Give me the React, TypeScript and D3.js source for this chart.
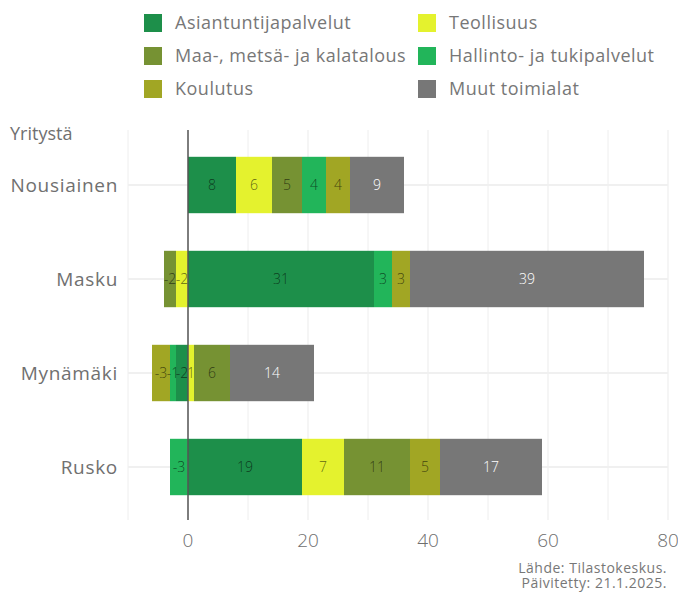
import React, { useRef, useEffect } from "react";
import * as d3 from "d3";

const municipalities = ["Nousiainen", "Masku", "Mynämäki", "Rusko"];
const sectors = [
  "Asiantuntijapalvelut",
  "Teollisuus",
  "Maa-, metsä- ja kalatalous",
  "Hallinto- ja tukipalvelut",
  "Koulutus",
  "Muut toimialat",
];
const sectorColors = ["#1d8f4a", "#e4f22e", "#769233", "#22b55a", "#a1a624", "#777777"];

// values per sector, in municipality order
const asiantuntija = [8, 31, -2, 19];
const teollisuus = [6, -2, 1, 7];
const maatalous = [5, -2, 6, 11];
const hallinto = [4, 3, -1, -3];
const koulutus = [4, 3, -3, 5];
const muut = [9, 39, 14, 17];

const xTicks = [0, 20, 40, 60, 80];

const W = 678;
const H = 593;
const FONT = "'Open Sans', sans-serif";

const App: React.FC = () => {
  const svgRef = useRef<SVGSVGElement | null>(null);

  useEffect(() => {
    const svg = d3.select(svgRef.current);
    svg.selectAll("*").remove();

    const series = [asiantuntija, teollisuus, maatalous, hallinto, koulutus, muut];
    const rows = municipalities.map((m, i) => {
      const row: any = { name: m };
      sectors.forEach((s, j) => (row[s] = series[j][i]));
      return row;
    });

    const stack = d3.stack<any>().keys(sectors).offset(d3.stackOffsetDiverging);
    const stacked = stack(rows);

    const x = d3.scaleLinear().domain([-10, 80]).range([128, 668]);
    const y = d3.scaleBand().domain(municipalities).range([138, 514]).paddingInner(0.4).paddingOuter(0.2);

    const top = 130;
    const bottom = 520;

    // grid
    const grid = svg.append("g");
    d3.range(-10, 81, 10).forEach((v) => {
      grid.append("line")
        .attr("x1", x(v)).attr("x2", x(v))
        .attr("y1", top).attr("y2", bottom)
        .attr("stroke", "#eeeeee")
        .attr("stroke-width", v % 20 === 0 ? 1.2 : 1);
    });
    municipalities.forEach((m) => {
      const cy = y(m)! + y.bandwidth() / 2;
      grid.append("line")
        .attr("x1", 128).attr("x2", 668)
        .attr("y1", cy).attr("y2", cy)
        .attr("stroke", "#f0f0f0")
        .attr("stroke-width", 2);
    });

    // bars
    stacked.forEach((layer, j) => {
      const g = svg.append("g");
      layer.forEach((d: any) => {
        const val = d.data[sectors[j]];
        if (!val) return;
        const x0 = x(Math.min(d[0], d[1]));
        const x1 = x(Math.max(d[0], d[1]));
        g.append("rect")
          .attr("x", x0)
          .attr("y", y(d.data.name)!)
          .attr("width", x1 - x0)
          .attr("height", y.bandwidth())
          .attr("fill", sectorColors[j]);
      });
    });

    // labels
    stacked.forEach((layer, j) => {
      const g = svg.append("g");
      layer.forEach((d: any) => {
        const val = d.data[sectors[j]];
        if (!val) return;
        g.append("text")
          .attr("x", x((d[0] + d[1]) / 2))
          .attr("y", y(d.data.name)! + y.bandwidth() / 2)
          .attr("dy", "0.35em")
          .attr("text-anchor", "middle")
          .attr("font-size", 14)
          .attr("font-weight", 300)
          .attr("font-family", FONT)
          .attr("fill", j === 5 ? "#ffffff" : "rgba(0,0,0,0.6)")
          .text(val);
      });
    });

    // zero line
    svg.append("line")
      .attr("x1", x(0)).attr("x2", x(0))
      .attr("y1", top).attr("y2", bottom)
      .attr("stroke", "#555555")
      .attr("stroke-width", 1.5);

    // y labels
    municipalities.forEach((m) => {
      svg.append("text")
        .attr("x", 118)
        .attr("y", y(m)! + y.bandwidth() / 2)
        .attr("dy", "0.35em")
        .attr("text-anchor", "end")
        .attr("font-size", 19)
        .attr("letter-spacing", 0.7)
        .attr("font-family", FONT)
        .attr("fill", "#707070")
        .text(m);
    });

    svg.append("text")
      .attr("x", 10)
      .attr("y", 140)
      .attr("font-size", 18)
      .attr("font-family", FONT)
      .attr("fill", "#707070")
      .text("Yritystä");

    // x ticks
    xTicks.forEach((t) => {
      svg.append("text")
        .attr("x", x(t))
        .attr("y", 547)
        .attr("text-anchor", "middle")
        .attr("font-size", 19)
        .attr("font-weight", 300)
        .attr("font-family", FONT)
        .attr("fill", "#6e6e6e")
        .text(t);
    });

    // legend
    const leg = svg.append("g");
    const order = [0, 2, 4, 1, 3, 5];
    order.forEach((idx, i) => {
      const col = i < 3 ? 0 : 1;
      const row = i % 3;
      const lx = col === 0 ? 144 : 418;
      const ly = 14 + row * 33;
      leg.append("rect")
        .attr("x", lx).attr("y", ly)
        .attr("width", 18).attr("height", 18)
        .attr("fill", sectorColors[idx]);
      leg.append("text")
        .attr("x", lx + 31)
        .attr("y", ly + 9)
        .attr("dy", "0.35em")
        .attr("font-size", 18)
        .attr("letter-spacing", 0.5)
        .attr("font-family", FONT)
        .attr("fill", "#777777")
        .text(sectors[idx]);
    });

    // source
    svg.append("text")
      .attr("x", 667).attr("y", 573)
      .attr("text-anchor", "end")
      .attr("font-size", 14)
      .attr("letter-spacing", 0.5)
      .attr("font-family", FONT)
      .attr("fill", "#777777")
      .text("Lähde: Tilastokeskus.");
    svg.append("text")
      .attr("x", 667).attr("y", 588)
      .attr("text-anchor", "end")
      .attr("font-size", 14)
      .attr("letter-spacing", 0.5)
      .attr("font-family", FONT)
      .attr("fill", "#777777")
      .text("Päivitetty: 21.1.2025.");
  }, []);

  return (
    <svg
      ref={svgRef}
      width={W}
      height={H}
      style={{ position: "absolute", left: 0, top: 0, background: "#fff" }}
    />
  );
};

export default App;
